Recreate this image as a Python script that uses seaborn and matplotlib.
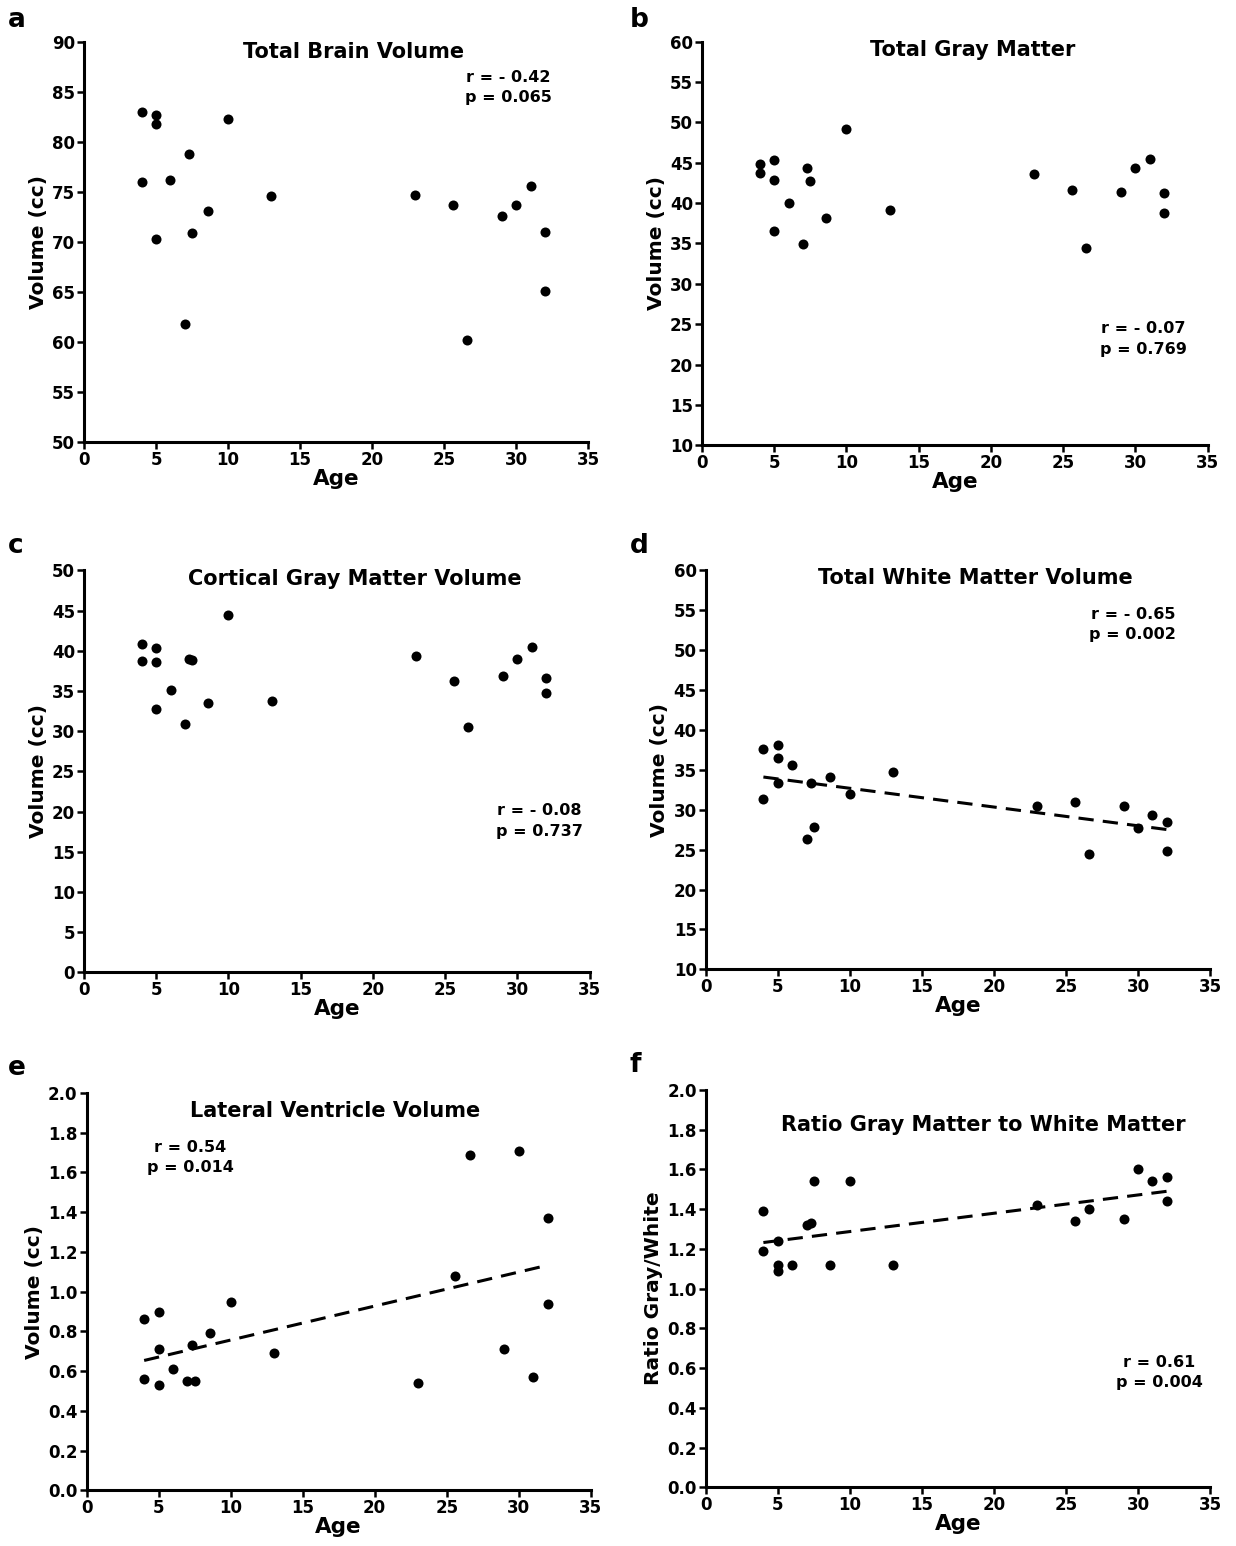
import numpy as np
import pandas as pd
import matplotlib
matplotlib.use("Agg")
import matplotlib.pyplot as plt
import seaborn as sns

# ages of the 20 subjects (shared by all panels)
age = [4, 4, 5, 5, 5, 6, 7, 7.3, 7.5, 8.6, 10, 13, 23, 25.6, 26.6, 29, 30, 31, 32, 32]

total_brain = [83.0, 76.0, 82.7, 81.8, 70.3, 76.2, 61.8, 78.8, 70.9, 73.1,
               82.3, 74.6, 74.7, 73.7, 60.2, 72.6, 73.7, 75.6, 71.0, 65.1]
total_gray = [44.8, 43.7, 45.4, 42.9, 36.5, 40.0, 34.9, 44.4, 42.8, 38.1,
              49.2, 39.1, 43.6, 41.6, 34.4, 41.4, 44.3, 45.5, 41.2, 38.8]
cortical_gray = [40.9, 38.8, 40.4, 38.6, 32.8, 35.1, 30.9, 39.0, 38.9, 33.5,
                 44.4, 33.8, 39.4, 36.3, 30.5, 36.9, 39.0, 40.5, 36.6, 34.8]
total_white = [37.6, 31.4, 38.1, 36.5, 33.3, 35.6, 26.3, 33.4, 27.8, 34.1,
               32.0, 34.8, 30.5, 31.0, 24.4, 30.5, 27.7, 29.4, 28.5, 24.8]
ventricle = [0.86, 0.56, 0.90, 0.71, 0.53, 0.61, 0.55, 0.73, 0.55, 0.79,
             0.95, 0.69, 0.54, 1.08, 1.69, 0.71, 1.71, 0.57, 1.37, 0.94]
gw_ratio = [1.39, 1.19, 1.24, 1.12, 1.09, 1.12, 1.32, 1.33, 1.54, 1.12,
            1.54, 1.12, 1.42, 1.34, 1.40, 1.35, 1.60, 1.54, 1.56, 1.44]

titles = ["Total Brain Volume", "Total Gray Matter", "Cortical Gray Matter Volume",
          "Total White Matter Volume", "Lateral Ventricle Volume",
          "Ratio Gray Matter to White Matter"]
stats = ["r = - 0.42\np = 0.065", "r = - 0.07\np = 0.769", "r = - 0.08\np = 0.737",
         "r = - 0.65\np = 0.002", "r = 0.54\np = 0.014", "r = 0.61\np = 0.004"]
letters = ["a", "b", "c", "d", "e", "f"]
ylabels = ["Volume (cc)"] * 5 + ["Ratio Gray/White"]
series = [total_brain, total_gray, cortical_gray, total_white, ventricle, gw_ratio]
ylims = [(50, 90), (10, 60), (0, 50), (10, 60), (0, 2.0), (0, 2.0)]
ysteps = [5, 5, 5, 5, 0.2, 0.2]
show_fit = [False, False, False, True, True, True]

sns.set_theme(style="ticks")
plt.rcParams['font.family'] = ['DejaVu Sans']
plt.rcParams['font.weight'] = 'bold'
for key in ['text.color', 'axes.labelcolor', 'xtick.color', 'ytick.color']:
    plt.rcParams[key] = 'black'

fig = plt.figure(figsize=(12.36, 15.46), dpi=100)

# axes boxes in figure fractions [left, bottom, width, height]
boxes = [[0.068, 0.714, 0.408, 0.259], [0.568, 0.712, 0.409, 0.261],
         [0.068, 0.371, 0.409, 0.260], [0.571, 0.373, 0.408, 0.258],
         [0.070, 0.036, 0.408, 0.257], [0.571, 0.038, 0.408, 0.257]]
title_pos = [(0.534, 0.975), (0.535, 0.98), (0.536, 0.98), (0.534, 0.98),
             (0.492, 0.955), (0.55, 0.912)]
stat_pos = [(0.841, 0.885), (0.873, 0.263), (0.901, 0.377), (0.847, 0.865),
            (0.206, 0.837), (0.90, 0.289)]
letter_pos = [(8, 20), (630, 20), (8, 546), (630, 546), (8, 1068), (630, 1065)]

for i in range(6):
    ax = fig.add_axes(boxes[i])
    df = pd.DataFrame({"Age": age, "val": series[i]})
    sns.scatterplot(data=df, x="Age", y="val", ax=ax, color="black", s=52,
                    linewidth=0, zorder=3, clip_on=False)
    if show_fit[i]:
        sns.regplot(data=df, x="Age", y="val", ax=ax, scatter=False, ci=None,
                    truncate=True, color="black",
                    line_kws=dict(lw=2.2, ls=(0, (5, 3))))
    ax.set_xlim(0, 35)
    ax.set_ylim(*ylims[i])
    ax.set_xticks(np.arange(0, 36, 5))
    lo, hi = ylims[i]
    yt = np.arange(lo, hi + ysteps[i] / 2, ysteps[i])
    ax.set_yticks(yt)
    if ysteps[i] < 1:
        ax.set_yticklabels([f"{v:.1f}" for v in yt])
    else:
        ax.set_yticklabels([f"{int(round(v))}" for v in yt])
    sns.despine(ax=ax)
    for s in ["left", "bottom"]:
        ax.spines[s].set_linewidth(2.2)
        ax.spines[s].set_color("black")
    ax.tick_params(width=1.8, length=5, labelsize=12, colors="black", pad=1.5)
    for lab in ax.get_xticklabels() + ax.get_yticklabels():
        lab.set_fontweight("bold")
    ax.set_xlabel("Age", fontsize=15.5, fontweight="bold", labelpad=0)
    ax.set_ylabel(ylabels[i], fontsize=14.5, fontweight="bold", labelpad=3)
    ax.text(title_pos[i][0], title_pos[i][1], titles[i], transform=ax.transAxes,
            ha="center", va="center", fontsize=15, fontweight="bold")
    ax.text(stat_pos[i][0], stat_pos[i][1], stats[i], transform=ax.transAxes,
            ha="center", va="center", fontsize=11.5, fontweight="bold",
            linespacing=1.45)
    fig.text(letter_pos[i][0] / 1236, 1 - letter_pos[i][1] / 1546, letters[i],
             ha="left", va="center", fontsize=19, fontweight="bold")

fig.savefig("out.png", dpi=100, facecolor="white")
plt.close()
